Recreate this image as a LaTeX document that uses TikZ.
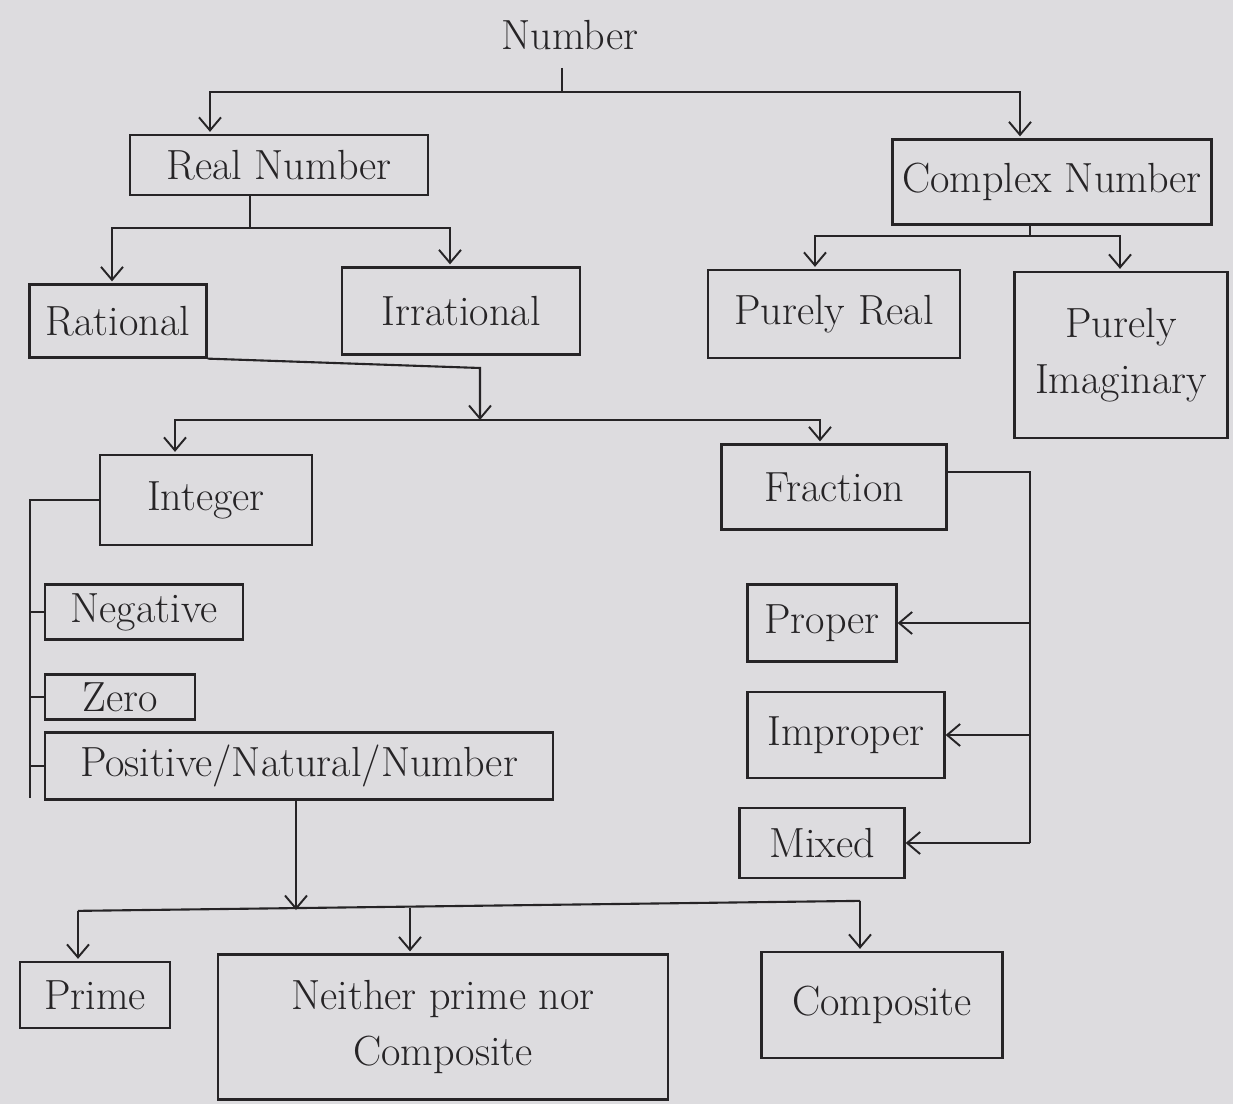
\documentclass[tikz,border=0pt]{standalone}
\usepackage{tikz}
\usetikzlibrary{arrows.meta}
\usetikzlibrary{calc}
\usetikzlibrary{positioning}
\definecolor{paper}{RGB}{221,220,223}
\definecolor{ink}{RGB}{38,36,38}
\tikzset{
    box/.style={draw=ink, line width=1.3pt, inner sep=2pt, align=center,
        font=\fontsize{24}{32}\selectfont, text=ink},
    link/.style={draw=ink, line width=1.2pt},
    arr/.style={draw=ink, line width=1.2pt,
        -{Straight Barb[length=2.6mm, width=4.4mm, line width=1.1pt]}},
}
\begin{document}
\begin{tikzpicture}[x=0.02cm, y=-0.02cm]
		\fill[paper] (0,0) rectangle (1233,1104);
		\useasboundingbox (0,0) rectangle (1233,1104);
		% top
		\node[font=\fontsize{24}{28}\selectfont, text=ink] (number) at (570,35) {Number};
		\node[box, minimum width=5.96cm, minimum height=1.2cm] (real) at (279,165) {Real Number};
		\node[box, minimum width=6.38cm, minimum height=1.7cm] (complex) at (1052,182) {Complex Number};
		\coordinate (nj) at (562,92);
		\draw[link] (nj |- 0,68) -- (nj);
		\draw[arr] (nj) -| ($(real.north)+(-69,-2)$);
		\draw[arr] (nj) -| ($(complex.north)+(-32,-2)$);
		% real
		\node[box, minimum width=3.54cm, minimum height=1.46cm] (rational) at (118,321) {Rational};
		\node[box, minimum width=4.76cm, minimum height=1.74cm] (irrational) at (461,311) {Irrational};
		\coordinate (rj) at (250,228);
		\draw[link] (real.south -| rj) -- (rj);
		\draw[arr] (rj) -| ($(rational.north)+(-6,-2)$);
		\draw[arr] (rj) -| ($(irrational.north)+(-11,-2)$);
		% complex
		\node[box, minimum width=5.04cm, minimum height=1.76cm] (purereal) at (834,314) {Purely Real};
		\node[box, minimum width=4.26cm, minimum height=3.32cm] (pureimag) at (1121,355) {Purely\\Imaginary};
		\coordinate (cj) at (1030,236);
		\draw[link] (complex.south -| cj) -- (cj);
		\draw[arr] (cj) -| ($(purereal.north)+(-19,-2)$);
		\draw[arr] (cj) -| ($(pureimag.north)+(-1,-2)$);
		% rational
		\node[box, minimum width=4.24cm, minimum height=1.8cm] (integer) at (206,500) {Integer};
		\node[box, minimum width=4.5cm, minimum height=1.7cm] (fraction) at (834,487) {Fraction};
		\coordinate (qj) at (480,420);
		\draw[arr] (rational.south east) -- (qj |- 0,368) -- (qj);
		\draw[arr] (qj) -| ($(integer.north)+(-31,-2)$);
		\draw[arr] (qj) -| ($(fraction.north)+(-14,-2)$);
		% integer
		\node[box, minimum width=3.96cm, minimum height=1.1cm] (negative) at (144,612) {Negative};
		\node[box, minimum width=3.0cm, minimum height=0.9cm] (zero) at (120,697) {Zero};
		\node[box, minimum width=10.16cm, minimum height=1.34cm] (positive) at (299,766) {Positive/Natural/Number};
		\coordinate (it) at (integer.west -| 30,0);
		\draw[link] (integer.west) -- (it) -- (it |- 0,798);
		\draw[link] (it |- negative.west) -- (negative.west);
		\draw[link] (it |- zero.west) -- (zero.west);
		\draw[link] (it |- positive.west) -- (positive.west);
		% fraction
		\node[box, minimum width=2.98cm, minimum height=1.54cm] (proper) at (822,623) {Proper};
		\node[box, minimum width=3.94cm, minimum height=1.72cm] (improper) at (846,735) {Improper};
		\node[box, minimum width=3.3cm, minimum height=1.4cm] (mixed) at (822,843) {Mixed};
		\coordinate (fs) at (1030,472);
		\draw[link] ($(fraction.east)+(0,-15)$) -- (fs) -- (fs |- mixed.east);
		\draw[arr] (fs |- proper.east) -- (proper.east);
		\draw[arr] (fs |- improper.east) -- (improper.east);
		\draw[arr] (fs |- mixed.east) -- (mixed.east);
		% positive
		\node[box, minimum width=3.0cm, minimum height=1.32cm] (prime) at (95,995) {Prime};
		\node[box, minimum width=9.0cm, minimum height=2.9cm] (neither) at (443,1027) {Neither prime nor\\Composite};
		\node[box, minimum width=4.82cm, minimum height=2.12cm] (composite) at (882,1005) {Composite};
		\coordinate (pj) at (296,910);
		\draw[arr] (positive.south -| pj) -- (pj);
		\draw[link] ($(prime.north)+(-17,-50)$) -- ($(composite.north)+(-22,-50)$);
		\draw[arr] ($(prime.north)+(-17,-50)$) -- ($(prime.north)+(-17,-2)$);
		\draw[arr] ($(neither.north)+(-33,-45)$) -- ($(neither.north)+(-33,-2)$);
		\draw[arr] ($(composite.north)+(-22,-50)$) -- ($(composite.north)+(-22,-2)$);
\end{tikzpicture}
\end{document}
